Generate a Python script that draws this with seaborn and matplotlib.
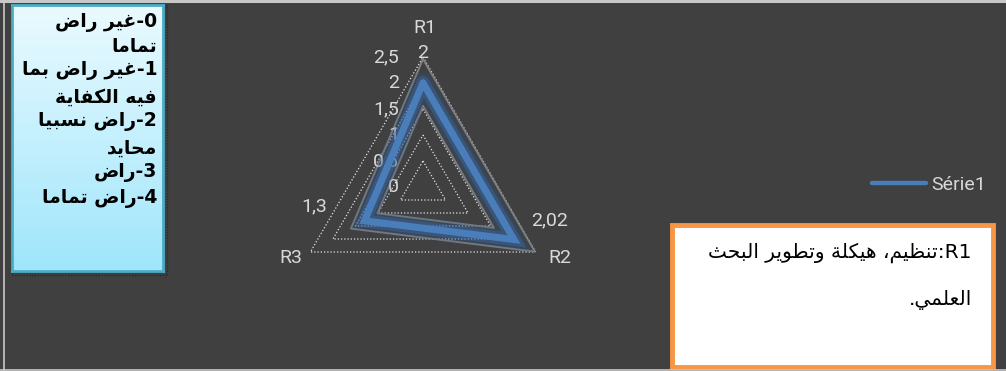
import numpy as np
import pandas as pd
import matplotlib
matplotlib.use("Agg")
import matplotlib.pyplot as plt
import seaborn as sns
from matplotlib import patheffects as pe
from matplotlib.transforms import Affine2D
from matplotlib.lines import Line2D
from matplotlib.patches import Rectangle
from matplotlib.colors import LinearSegmentedColormap

# ---------------- data ----------------
categories = ["R1", "R2", "R3"]
values = [2.0, 2.02, 1.3]
value_labels = ["2", "2,02", "1,3"]
radial_ticks = [0, 0.5, 1, 1.5, 2, 2.5]
radial_tick_labels = ["0", "0,5", "1", "1,5", "2", "2,5"]
series_name = "Série1"
key_lines = ["0-غير راض", "تماما", "1-غير راض بما", "فيه الكفاية",
             "2-راض نسبيا", "محايد", "3-راض", "4-راض تماما"]
note_lines = ["R1:تنظيم، هيكلة وتطوير البحث", "العلمي."]

# ---------------- minimal Arabic shaping (presentation forms) ----------------
AR_FORMS = {
    "ا": (0xFE8D, 2), "ب": (0xFE8F, 4), "ة": (0xFE93, 2), "ت": (0xFE95, 4), "ث": (0xFE99, 4),
    "ح": (0xFEA1, 4), "د": (0xFEA9, 2), "ر": (0xFEAD, 2), "س": (0xFEB1, 4), "ض": (0xFEBD, 4),
    "ط": (0xFEC1, 4), "ظ": (0xFEC5, 4), "ع": (0xFEC9, 4), "غ": (0xFECD, 4), "ف": (0xFED1, 4),
    "ك": (0xFED9, 4), "ل": (0xFEDD, 4), "م": (0xFEE1, 4), "ن": (0xFEE5, 4), "ه": (0xFEE9, 4),
    "و": (0xFEED, 2), "ي": (0xFEF1, 4),
}


def shape_rtl(s):
    out = []
    n = len(s)
    for i, c in enumerate(s):
        if c not in AR_FORMS:
            out.append(c)
            continue
        base, kind = AR_FORMS[c]
        jp = i > 0 and s[i - 1] in AR_FORMS and AR_FORMS[s[i - 1]][1] == 4
        jn = kind == 4 and i < n - 1 and s[i + 1] in AR_FORMS
        if jp and jn:
            off = 3
        elif jp:
            off = 1
        elif jn:
            off = 2
        else:
            off = 0
        out.append(chr(base + off))
    return "".join(out)[::-1]


def rtl_paragraph(s):
    # leading latin/digit run stays at the right end of an RTL line
    i = 0
    while i < len(s) and (s[i].isascii() and s[i].isalnum()):
        i += 1
    return shape_rtl(s[i:]) + s[:i]


# ---------------- style ----------------
BG = "#404040"
sns.set_theme(style="white", rc={"figure.facecolor": BG, "axes.facecolor": BG})
plt.rcParams["font.family"] = ["Roboto", "DejaVu Sans"]
TXT = "#d9d9d9"
BLUE = "#4a7ebb"

fig = plt.figure(figsize=(10.06, 3.71), dpi=100)
fig.patch.set_facecolor(BG)

W, H = 1006, 371
cx, cy, R = 423, 187, 130
ax = fig.add_axes([(cx - R) / W, (H - cy - R) / H, 2 * R / W, 2 * R / H], projection="polar")
ax.set_facecolor("none")
ax.set_theta_offset(np.pi / 2)
ax.set_theta_direction(-1)
ax.set_ylim(0, radial_ticks[-1])
ax.grid(False)
ax.spines["polar"].set_visible(False)

n = len(categories)
angles = [2 * np.pi * k / n for k in range(n)]
closed_angles = angles + [2 * np.pi]

# gridlines (dotted triangles)
for lvl in radial_ticks[1:]:
    ax.plot(closed_angles, [lvl] * (n + 1), color="#e6e6e6", lw=0.9,
            ls=(0, (1, 1.6)), zorder=1)

df = pd.DataFrame({"theta": closed_angles, "value": values + [values[0]]})

# soft gray echoes of the series (visual effect)
for k in (0.78, 1.23):
    ax.plot(df["theta"], df["value"], color="#808080", lw=1.4, zorder=2,
            transform=Affine2D().scale(1, k) + ax.transData)

sns.lineplot(data=df, x="theta", y="value", sort=False, estimator=None, ax=ax,
             color=BLUE, lw=5, legend=False, zorder=4)
line = ax.lines[-1]
line.set_solid_joinstyle("miter")
line.set_path_effects([
    pe.Stroke(linewidth=17, foreground="#2f5687", alpha=0.12),
    pe.Stroke(linewidth=13, foreground="#2f5687", alpha=0.22),
    pe.Stroke(linewidth=9.5, foreground="#3a6aa8", alpha=0.45),
    pe.Normal(),
])
ax.set_xlabel("")
ax.set_ylabel("")
ax.set_xticks([])
ax.set_yticks([])

FS = 14
# radial tick labels
for lvl, lab in zip(radial_ticks, radial_tick_labels):
    ax.annotate(lab, xy=(0, lvl), xytext=(-24, 0), textcoords="offset pixels",
                ha="right", va="center", color=TXT, fontsize=FS)

# category labels
cat_off = [(2, 29), (24, -6), (-20, -6)]
for a, lab, off in zip(angles, categories, cat_off):
    ax.annotate(lab, xy=(a, radial_ticks[-1]), xytext=off, textcoords="offset pixels",
                ha="center", va="center", color=TXT, fontsize=FS)

# data labels
val_off = [(0, 30), (36, 19), (-50, 14)]
for a, v, lab, off in zip(angles, values, value_labels, val_off):
    ax.annotate(lab, xy=(a, v), xytext=off, textcoords="offset pixels",
                ha="center", va="center", color=TXT, fontsize=FS)

# legend
h = Line2D([], [], color=BLUE, lw=3.2, solid_capstyle="round")
fig.legend(handles=[h], labels=[series_name], loc="center left",
           bbox_to_anchor=(854 / W, 1 - 185 / H), frameon=False, fontsize=FS,
           handlelength=2.8, handletextpad=0.25, labelcolor=TXT)

# scale key box (top-left)
bx0, by0, bx1, by1 = 12, 5, 163, 271
fig.add_artist(Rectangle((bx0 / W, 1 - (by1 + 4) / H), (bx1 - bx0 + 4) / W, (by1 - by0 + 4) / H,
                         transform=fig.transFigure, fill=False, ec="#2a2a2a", lw=1.0,
                         ls=(0, (1, 1)), zorder=0))
kax = fig.add_axes([bx0 / W, 1 - by1 / H, (bx1 - bx0) / W, (by1 - by0) / H])
cmap = LinearSegmentedColormap.from_list("kb", ["#eafaff", "#9fe6fb"])
kax.imshow(np.linspace(0, 1, 100).reshape(-1, 1), aspect="auto", cmap=cmap,
           extent=(0, 1, 0, 1), origin="upper")
kax.set_xticks([])
kax.set_yticks([])
for s in kax.spines.values():
    s.set_color("#4bacc6")
    s.set_linewidth(2)

key_y = [22, 46, 71, 97, 122, 148, 173, 198]
for txt, y in zip(key_lines, key_y):
    fig.text(157 / W, 1 - y / H, rtl_paragraph(txt), ha="right", va="center",
             fontsize=13.5, fontweight="bold", color="black", family=["DejaVu Sans"])

# note box (bottom-right)
fig.add_artist(Rectangle((672 / W, 1 - 367 / H), (993 - 672) / W, (367 - 225) / H,
                         transform=fig.transFigure, fc="white", ec="#f79646", lw=3.5))
for txt, y in zip(note_lines, [253, 300]):
    fig.text(972 / W, 1 - y / H, rtl_paragraph(txt), ha="right", va="center",
             fontsize=14.5, color="black", family=["DejaVu Sans"])

# frame borders
fig.add_artist(Line2D([0, 1], [1 - 1 / H] * 2, color="#c8c8c8", lw=2.2, transform=fig.transFigure))
fig.add_artist(Line2D([3.5 / W] * 2, [0, 1], color="#c8c8c8", lw=1.2, transform=fig.transFigure))
fig.add_artist(Line2D([0, 1], [1 - 369.5 / H] * 2, color="#c8c8c8", lw=1.2, transform=fig.transFigure))

fig.savefig("out.png", dpi=100, facecolor=BG)
